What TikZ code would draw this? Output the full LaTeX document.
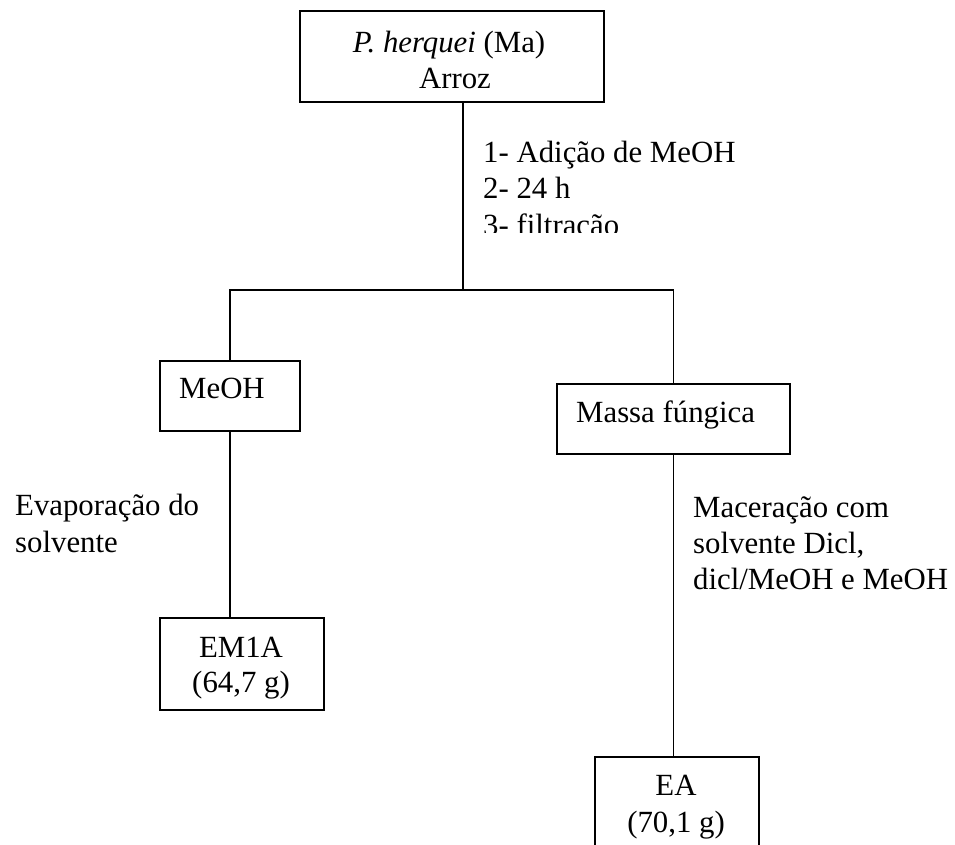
\documentclass[tikz,border=0pt]{standalone}
\usepackage{fontspec}
\setmainfont{Liberation Serif}
\begin{document}
\begin{tikzpicture}[x=1pt,y=-1pt,
  box/.style={draw, line width=1.9pt, rectangle, inner sep=0pt, anchor=north west},
  txt/.style={inner sep=0pt, font=\fontsize{30.8}{36}\selectfont},
  conn/.style={draw, line width=1.9pt}]
\useasboundingbox (0,0) rectangle (955,845);
\clip (0,0) rectangle (955,845);

% boxes
\node[box, minimum width=304pt, minimum height=91pt] (top) at (299,10) {};
\node[box, minimum width=140pt, minimum height=70pt] (meoh) at (159,360) {};
\node[box, minimum width=233pt, minimum height=70pt] (massa) at (556,383) {};
\node[box, minimum width=164pt, minimum height=92pt] (em) at (159,617) {};
\node[box, minimum width=164pt, minimum height=120pt] (ea) at (594,756) {};

% box texts
\node[txt, anchor=base] (toptxt1) at (449,53) {\textit{P. herquei} (Ma)};
\node[txt, anchor=base] (toptxt2) at (455,89) {Arroz};
\node[txt, anchor=base west] (meohtxt) at (179,398) {MeOH};
\node[txt, anchor=base west] (massatxt) at (576,422) {Massa fúngica};
\node[txt, anchor=base] (emtxt1) at (241,657) {EM1A};
\node[txt, anchor=base] (emtxt2) at (241,692) {(64,7 g)};
\node[txt, anchor=base] (eatxt1) at (676,795) {EA};
\node[txt, anchor=base] (eatxt2) at (676,832) {(70,1 g)};

% step labels
\begin{scope}
  \clip (470,110) rectangle (800,232);
  \node[txt, anchor=base west] (lab1) at (483,163) {1- Adição de MeOH};
  \node[txt, anchor=base west] (lab2) at (483,199) {2- 24 h};
  \node[txt, anchor=base west] (lab3) at (483,235) {3- filtração};
\end{scope}
\node[txt, anchor=base west] (evap1) at (15,515) {Evaporação do};
\node[txt, anchor=base west] (evap2) at (15,552) {solvente};
\node[txt, anchor=base west] (mac1) at (693,517) {Maceração com};
\node[txt, anchor=base west] (mac2) at (693,553) {solvente Dicl,};
\node[txt, anchor=base west] (mac3) at (693,589) {dicl/MeOH e MeOH};

% connectors
\coordinate (j) at (463,290);
\draw[conn] (top.south -| j) -- (j);
\draw[conn] (meoh.north) |- (j) -| (massa.north);
\draw[conn] (meoh.south) -- (meoh.south |- em.north);
\draw[conn] (massa.south) -- (massa.south |- ea.north);
\end{tikzpicture}
\end{document}
